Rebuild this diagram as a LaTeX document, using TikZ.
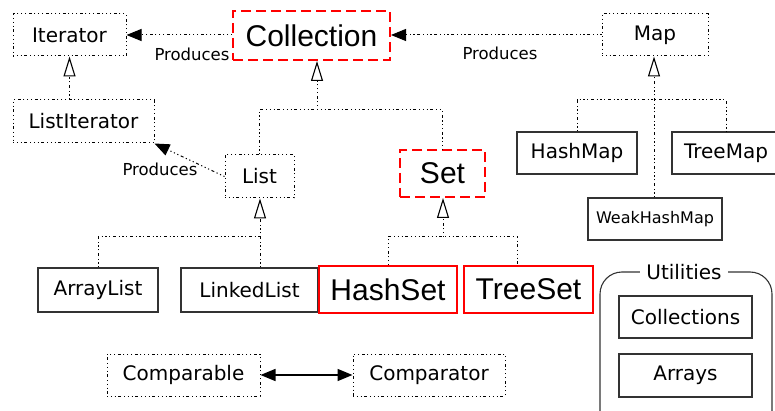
\documentclass[tikz,border=0pt]{standalone}
\usepackage{fontspec}
\setmainfont{DejaVu Sans}
\newfontfamily\bigfont{Liberation Sans}
\usetikzlibrary{positioning}
\usetikzlibrary{arrows.meta}
\usetikzlibrary{calc}

\tikzset{
  dotline/.style={line width=1pt, dash pattern=on 1.2pt off 2.6pt on 1.2pt off 2.6pt on 1.2pt off 2.6pt on 3pt off 2.6pt},
  dotbox/.style={dotline, draw, inner sep=0pt, font=\fontsize{20}{24}\selectfont},
  plainbox/.style={draw=black!80, line width=1.3pt, inner sep=0pt, font=\fontsize{20}{24}\selectfont},
  reddash/.style={draw=red, line width=2pt, dash pattern=on 10pt off 5pt, inner sep=0pt, font=\bigfont\fontsize{30}{36}\selectfont},
  redbox/.style={draw=red, line width=2pt, inner sep=0pt, font=\bigfont\fontsize{30}{36}\selectfont},
  inherit/.style={dotline, -{Triangle[open, length=20pt, width=12pt, line width=1.1pt]}},
  produces/.style={dotline, -{Triangle[length=15pt, width=12pt]}},
  compare/.style={line width=1.5pt, {Triangle[length=15pt, width=12pt]}-{Triangle[length=15pt, width=12pt]}},
  tag/.style={inner sep=0pt, font=\fontsize{16.5}{19}\selectfont},
  utilframe/.style={draw=black!80, line width=1.1pt, rounded corners=22pt}
}

\begin{document}
\begin{tikzpicture}[x=1pt, y=-1pt]
    \useasboundingbox (0,0) rectangle (775,411);
    % interfaces
    \node[dotbox, minimum width=113pt, minimum height=42pt] (iter) at (69.5,35) {Iterator};
    \node[reddash, minimum width=157pt, minimum height=49pt] (coll) at (311.5,35.5) {Collection};
    \node[dotbox, minimum width=106pt, minimum height=42pt] (map) at (655,35) {Map};
    \node[dotbox, minimum width=141pt, minimum height=43pt] (listit) at (83.5,121.5) {ListIterator};
    \node[dotbox, minimum width=69pt, minimum height=43pt] (list) at (259.5,176.5) {List};
    \node[reddash, minimum width=85pt, minimum height=47pt] (set) at (442.5,173.5) {Set};
    \node[dotbox, minimum width=153pt, minimum height=42pt] (comparable) at (183.5,375) {Comparable};
    \node[dotbox, minimum width=152pt, minimum height=42pt] (comparator) at (429,375) {Comparator};
    % classes
    \node[plainbox, minimum width=120pt, minimum height=42pt] (hashmap) at (577,153) {HashMap};
    \node[plainbox, minimum width=108pt, minimum height=42pt] (treemap) at (726,153) {TreeMap};
    \node[plainbox, minimum width=134pt, minimum height=42pt, font=\fontsize{16}{19}\selectfont] (weakmap) at (655,219) {WeakHashMap};
    \node[plainbox, minimum width=120pt, minimum height=44pt] (arraylist) at (98,290) {ArrayList};
    \node[plainbox, minimum width=137pt, minimum height=44pt] (linkedlist) at (249.5,290) {LinkedList};
    \node[redbox, minimum width=138pt, minimum height=47pt] (hashset) at (388,289.5) {HashSet};
    \node[redbox, minimum width=129pt, minimum height=47pt] (treeset) at (528.5,289.5) {TreeSet};
    % utilities
    \draw[utilframe] (600,440) -- (600,272) -- (772,272) -- (772,440);
    \node[fill=white, inner xsep=6pt, inner ysep=1pt, font=\fontsize{20}{24}\selectfont] (util) at (684,272) {Utilities};
    \node[plainbox, minimum width=133pt, minimum height=42pt] (collections) at (685.5,317) {Collections};
    \node[plainbox, minimum width=133pt, minimum height=43pt] (arrays) at (685.5,375.5) {Arrays};

    % produces
    \draw[produces] (coll.west |- iter.east) -- (iter.east);
    \node[tag] (prodit) at (192,54) {Produces};
    \draw[produces] (map.west) -- (coll.east |- map.west);
    \node[tag] (prodmap) at (500,53) {Produces};
    \draw[produces] (list.west) -- (listit.south east);
    \node[tag] (prodlist) at (160,169) {Produces};

    % inheritance
    \draw[inherit] (listit.north -| iter.south) -- (iter.south);
    \coordinate (colljoin) at (317,110);
    \draw[dotline] (list.north) |- (colljoin) -| (set.north);
    \draw[inherit] (colljoin) -- (colljoin |- coll.south);
    \coordinate (listjoin) at (260,237);
    \draw[dotline] (arraylist.north) |- (listjoin);
    \draw[inherit] (listjoin |- linkedlist.north) -- (listjoin |- list.south);
    \coordinate (setjoin) at (443,237);
    \draw[dotline] (hashset.north) |- (setjoin) -| ([xshift=-11.5pt]treeset.north);
    \draw[inherit] (setjoin) -- (setjoin |- set.south);
    \coordinate (mapjoin) at (654,100);
    \draw[dotline] (hashmap.north) |- (mapjoin) -| (treemap.north);
    \draw[inherit] (mapjoin |- weakmap.north) -- (mapjoin |- map.south);

    \draw[compare] (comparable.east) -- (comparator.west);
\end{tikzpicture}
\end{document}
